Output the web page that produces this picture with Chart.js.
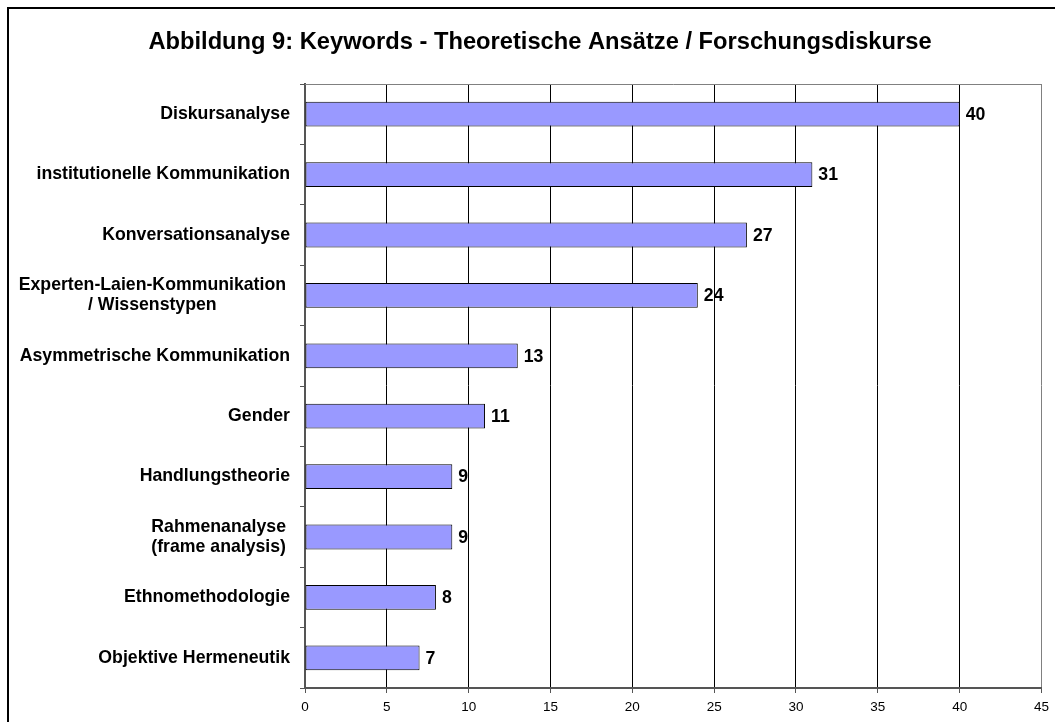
<!DOCTYPE html>
<html>
<head>
<meta charset="utf-8">
<script src="https://cdn.jsdelivr.net/npm/chart.js@4.4.0/dist/chart.umd.min.js"></script>
<style>
html,body{margin:0;padding:0;background:#fff;}
#wrap{position:absolute;left:0;top:0;width:1055px;height:722px;}
</style>
</head>
<body>
<div id="wrap"><canvas id="c" width="1055" height="722"></canvas></div>
<script>
const title = 'Abbildung 9: Keywords - Theoretische Ansätze / Forschungsdiskurse';
const categories = [
  'Diskursanalyse',
  'institutionelle Kommunikation',
  'Konversationsanalyse',
  ['Experten-Laien-Kommunikation', '/ Wissenstypen'],
  'Asymmetrische Kommunikation',
  'Gender',
  'Handlungstheorie',
  ['Rahmenanalyse', '(frame analysis)'],
  'Ethnomethodologie',
  'Objektive Hermeneutik'
];
const values = [40, 31, 27, 24, 13, 11, 9, 9, 8, 7];
const xMin = 0, xMax = 45, xStep = 5;

const FONT = 'Arial, "Liberation Sans", Helvetica, sans-serif';

const framePlugin = {
  id: 'frame',
  beforeDraw(chart) {
    const ctx = chart.ctx;
    ctx.save();
    ctx.fillStyle = '#fff';
    ctx.fillRect(0, 0, chart.width, chart.height);
    ctx.strokeStyle = '#000';
    ctx.lineWidth = 2;
    ctx.strokeRect(8, 8, 3000, 3000);
    ctx.restore();
  },
  afterDraw(chart) {
    const ctx = chart.ctx;
    const a = chart.chartArea;
    ctx.save();
    // title
    ctx.fillStyle = '#000';
    ctx.font = 'bold 23.7px ' + FONT;
    ctx.textAlign = 'center';
    ctx.textBaseline = 'middle';
    ctx.fillText(title, 540, 42);
    // top border of plot
    ctx.strokeStyle = '#808080';
    ctx.lineWidth = 1;
    ctx.beginPath();
    ctx.moveTo(a.left, Math.round(a.top) + 0.5);
    ctx.lineTo(a.right, Math.round(a.top) + 0.5);
    ctx.stroke();
    // y labels (right-aligned block, centered lines)
    const ys = chart.scales.y;
    ctx.font = 'bold 17.7px ' + FONT;
    ctx.fillStyle = '#000';
    ctx.textBaseline = 'middle';
    ctx.textAlign = 'center';
    const lh = 20;
    categories.forEach((lab, i) => {
      const lines = Array.isArray(lab) ? lab : [lab];
      const w = Math.max(...lines.map(l => ctx.measureText(l).width));
      const right = lines.length > 1 ? 286 : 290;
      const cx = right - w / 2;
      const cy = ys.getPixelForValue(i);
      lines.forEach((l, k) => {
        ctx.fillText(l, cx, cy + (k - (lines.length - 1) / 2) * lh);
      });
    });
    // value labels
    const meta = chart.getDatasetMeta(0);
    ctx.textAlign = 'left';
    meta.data.forEach((bar, i) => {
      ctx.fillText(String(values[i]), bar.x + 6, bar.y + 1);
    });
    ctx.restore();
  }
};

new Chart(document.getElementById('c'), {
  type: 'bar',
  data: {
    labels: categories,
    datasets: [{
      data: values,
      backgroundColor: '#9999FF',
      borderColor: '#000',
      borderWidth: 1,
      borderSkipped: false,
      barPercentage: 0.41,
      categoryPercentage: 1
    }]
  },
  options: {
    indexAxis: 'y',
    responsive: false,
    animation: false,
    devicePixelRatio: 1,
    layout: { padding: { top: 84, right: 11, left: 0, bottom: 0 } },
    plugins: { legend: { display: false }, title: { display: false }, tooltip: { enabled: false } },
    scales: {
      x: {
        min: xMin, max: xMax,
        ticks: { stepSize: xStep, color: '#000', font: { family: FONT, size: 13.5 }, padding: 6, maxRotation: 0 },
        grid: {
          color: c => (c.tick && c.tick.value === xMax) ? '#808080' : (c.tick && c.tick.value === xMin ? 'rgba(0,0,0,0)' : '#000'),
          tickColor: '#555',
          tickLength: 5,
          lineWidth: 1
        },
        border: { color: '#555', width: 2 },
        afterFit: s => { s.height = 34; }
      },
      y: {
        ticks: { display: false },
        grid: { offset: true, drawOnChartArea: false, tickLength: 5, color: '#555' },
        border: { color: '#555', width: 2 },
        afterFit: s => { s.width = 305; }
      }
    }
  },
  plugins: [framePlugin]
});
</script>
</body>
</html>
